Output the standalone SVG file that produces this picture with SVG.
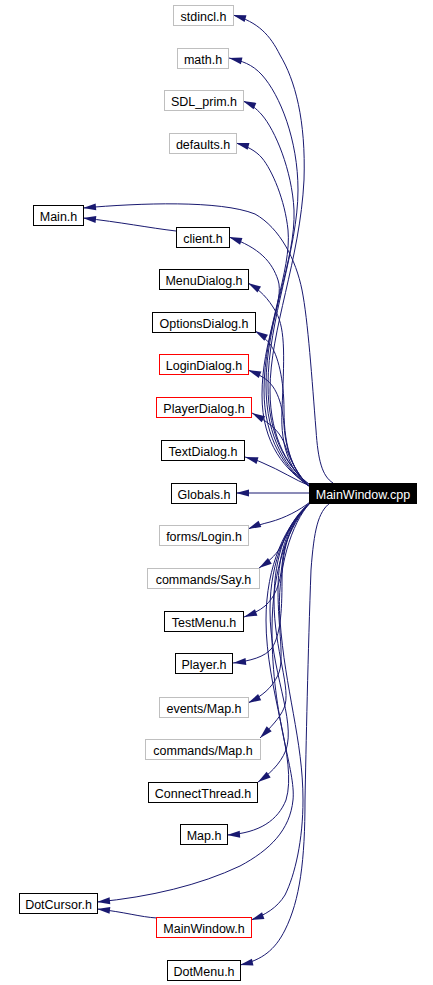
<svg xmlns="http://www.w3.org/2000/svg" width="433" height="985" viewBox="0 0 433 985">
<style>
rect{fill:#fff;stroke:#000;stroke-width:1}
.g rect{stroke:#bfbfbf}
.r rect{stroke:#ff0000}
#n_cpp rect{fill:#000;stroke:#000}
text{font-family:"Liberation Sans",Arial,sans-serif;font-size:12.5px;text-anchor:middle;fill:#000}
#n_cpp text{fill:#fff}
#edges path{fill:none;stroke:#191970;stroke-width:1;marker-end:url(#ah)}
</style>
<defs>
<marker id="ah" markerWidth="13" markerHeight="7" refX="13" refY="3.5" orient="auto" markerUnits="userSpaceOnUse" overflow="visible">
<polygon points="0,0 13,3.5 0,7" fill="#191970"/>
</marker>
</defs>
<rect x="0" y="0" width="433" height="985" style="fill:#fff;stroke:none"/>
<g id="edges">
<path d="M310,485 C290,470 270,440 270,390 C270,330 300,260 304,180 C306,120 295,80 280,55 C270,35 258,22 233,15"/>
<path d="M310,485 C288,468 268,438 268,385 C268,320 298,250 298,190 C298,140 280,95 262,75 C252,64 242,61 229,58"/>
<path d="M309,486 C288,470 266,440 266,385 C266,320 296,260 294,210 C292,170 275,130 262,115 C256,108 250,104 243,101"/>
<path d="M309,486 C286,470 264,440 264,390 C264,330 292,270 288,230 C285,200 272,170 262,158 C256,151 247,146 236,143"/>
<path d="M309,486 C286,470 262,445 262,395 C262,340 285,300 278,280 C272,262 260,248 229,237"/>
<path d="M333,483 C322,476 318,460 316,430 C312,380 308,320 302,290 C296,260 280,228 255,214 C220,200 140,203 83,208"/>
<path d="M176,231 C150,228 120,222 83,218"/>
<path d="M309,486 C292,472 280,450 282,410 C284,360 286,330 276,312 C268,298 260,290 248,283"/>
<path d="M309,486 C294,472 284,450 284,410 C284,380 278,355 270,344 C264,337 260,334 255,331"/>
<path d="M309,486 C296,474 286,455 284,425 C282,400 275,385 264,378 C258,374 253,372 248,370"/>
<path d="M309,486 C298,475 290,460 285,445 C280,432 272,424 252,413"/>
<path d="M310,486 C295,480 280,470 263,463 C257,460 252,459 245,457"/>
<path d="M309,493 L236,493"/>
<path d="M310,502 C300,510 285,518 270,522 C262,524 255,526 248,529"/>
<path d="M310,503 C295,515 287,535 280,548 C275,556 268,562 259,568"/>
<path d="M310,503 C294,518 284,540 282,565 C280,585 275,597 265,606 C259,611 252,614 244,617"/>
<path d="M310,503 C292,520 282,545 282,580 C282,615 280,635 272,648 C265,657 250,661 233,663"/>
<path d="M310,503 C290,520 278,550 278,590 C278,630 285,660 278,675 C272,688 262,696 248,703"/>
<path d="M310,503 C288,520 274,555 274,600 C274,650 292,690 284,708 C280,718 270,728 260,738"/>
<path d="M310,503 C288,522 270,560 270,610 C270,670 296,720 286,750 C280,765 268,775 258,782"/>
<path d="M310,503 C286,524 266,565 266,620 C266,690 298,760 286,800 C278,820 260,833 227,835"/>
<path d="M310,503 C290,524 272,565 272,630 C272,720 296,770 293,800 C290,830 270,850 240,866 C200,885 150,897 97,902"/>
<path d="M157,918 C140,917 125,912 97,909"/>
<path d="M310,503 C292,522 276,570 280,620 C285,690 303,740 303,800 C303,840 295,875 285,895 C277,908 265,915 251,920"/>
<path d="M330,503 C318,512 314,530 311,570 C308,650 306,750 305,800 C305,860 300,900 285,930 C275,950 262,960 240,965"/>
</g>
<g id="n_stdincl" class="g"><rect x="173.5" y="5.5" width="60" height="20"/><text x="203.5" y="20.5">stdincl.h</text></g>
<g id="n_math" class="g"><rect x="177.5" y="48.5" width="51" height="20"/><text x="203" y="63.5">math.h</text></g>
<g id="n_sdlprim" class="g"><rect x="164.5" y="90.5" width="79" height="20"/><text x="204" y="105.5">SDL_prim.h</text></g>
<g id="n_defaults" class="g"><rect x="169.5" y="133.5" width="67" height="20"/><text x="203" y="148.5">defaults.h</text></g>
<g id="n_main"><rect x="33.5" y="205.5" width="50" height="20"/><text x="58.5" y="220.5">Main.h</text></g>
<g id="n_client"><rect x="176.5" y="227.5" width="53" height="20"/><text x="203" y="242.5">client.h</text></g>
<g id="n_menudialog"><rect x="159.5" y="269.5" width="89" height="20"/><text x="204" y="284.5">MenuDialog.h</text></g>
<g id="n_optionsdialog"><rect x="152.5" y="312.5" width="103" height="20"/><text x="204" y="327.5">OptionsDialog.h</text></g>
<g id="n_logindialog" class="r"><rect x="159.5" y="354.5" width="89" height="20"/><text x="204" y="369.5">LoginDialog.h</text></g>
<g id="n_playerdialog" class="r"><rect x="156.5" y="397.5" width="95" height="20"/><text x="204" y="412.5">PlayerDialog.h</text></g>
<g id="n_textdialog"><rect x="161.5" y="440.5" width="83" height="20"/><text x="203" y="455.5">TextDialog.h</text></g>
<g id="n_globals"><rect x="171.5" y="483.5" width="65" height="20"/><text x="204" y="498.5">Globals.h</text></g>
<g id="n_cpp"><rect x="309.5" y="483.5" width="107" height="20"/><text x="363" y="498.5">MainWindow.cpp</text></g>
<g id="n_formslogin" class="g"><rect x="159.5" y="525.5" width="89" height="20"/><text x="204" y="540.5">forms/Login.h</text></g>
<g id="n_cmdsay" class="g"><rect x="147.5" y="568.5" width="112" height="20"/><text x="203.5" y="583.5">commands/Say.h</text></g>
<g id="n_testmenu"><rect x="164.5" y="611.5" width="79" height="20"/><text x="204" y="626.5">TestMenu.h</text></g>
<g id="n_player"><rect x="175.5" y="653.5" width="57" height="20"/><text x="204" y="668.5">Player.h</text></g>
<g id="n_eventsmap" class="g"><rect x="159.5" y="697.5" width="89" height="20"/><text x="204" y="712.5">events/Map.h</text></g>
<g id="n_cmdmap" class="g"><rect x="145.5" y="739.5" width="115" height="20"/><text x="203" y="754.5">commands/Map.h</text></g>
<g id="n_connectthread"><rect x="148.5" y="782.5" width="109" height="20"/><text x="203" y="797.5">ConnectThread.h</text></g>
<g id="n_map"><rect x="180.5" y="824.5" width="47" height="20"/><text x="204" y="839.5">Map.h</text></g>
<g id="n_dotcursor"><rect x="19.5" y="893.5" width="78" height="20"/><text x="58.5" y="908.5">DotCursor.h</text></g>
<g id="n_mainwindowh" class="r"><rect x="156.5" y="917.5" width="95" height="20"/><text x="204" y="932.5">MainWindow.h</text></g>
<g id="n_dotmenu"><rect x="167.5" y="960.5" width="73" height="20"/><text x="204" y="975.5">DotMenu.h</text></g>
</svg>
